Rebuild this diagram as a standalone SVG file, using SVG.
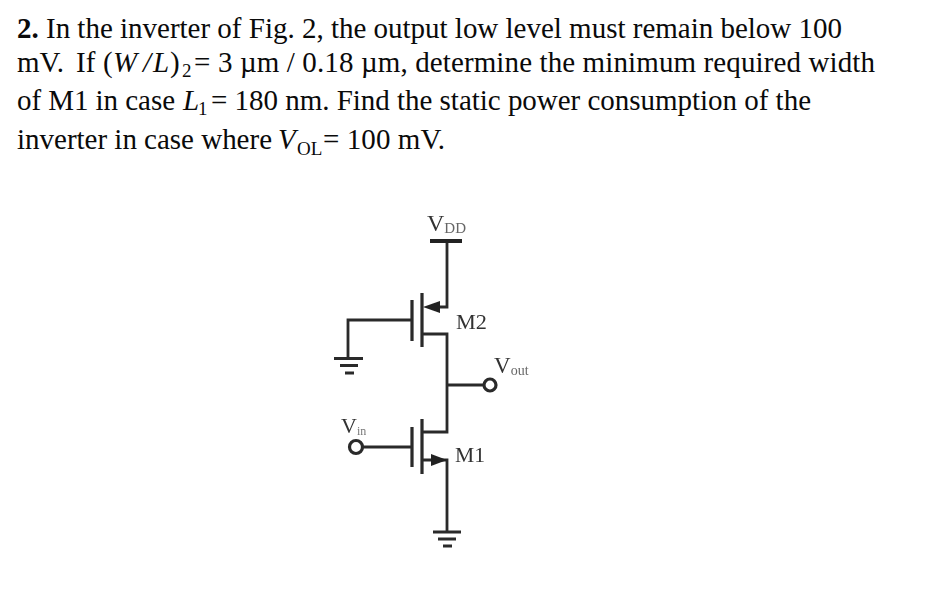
<svg xmlns="http://www.w3.org/2000/svg" width="934" height="599" viewBox="0 0 934 599">
<style>
.q{font-family:"Liberation Serif","Times New Roman",serif;font-size:29px;fill:#0a0a0a}
.i{font-style:italic}
.s{font-size:19px}
.l{font-family:"Liberation Serif","Times New Roman",serif;fill:#333}
.w{fill:none;stroke:#2a2a2a;stroke-width:2.8}
.t{fill:none;stroke:#2a2a2a;stroke-width:3.2}
.h{fill:#222}
</style>
<defs><filter id="b" x="-5%" y="-5%" width="110%" height="110%"><feGaussianBlur stdDeviation="0.6"/></filter></defs>
<rect width="934" height="599" fill="#fff"/>
<g id="question">
<text class="q" x="17" y="38" textLength="825"><tspan font-weight="bold">2.</tspan> In the inverter of Fig. 2, the output low level must remain below 100</text>
<text class="q" x="17" y="72">mV.</text><text class="q" x="76" y="72">If</text><text class="q" x="103" y="72">(</text><text class="q i" x="113" y="72">W</text><text class="q i" x="143" y="72">/</text><text class="q i" x="153" y="72">L</text><text class="q" x="170" y="72">)</text><text class="q s" x="182" y="77">2</text><text class="q" x="194" y="72">=</text>
<text class="q" x="218" y="72" textLength="657">3 µm / 0.18 µm, determine the minimum required width</text>
<text class="q" x="17" y="110" textLength="158">of M1 in case</text><text class="q i" x="183" y="110">L</text><text class="q s" x="198" y="115">1</text>
<text class="q" x="211" y="110" textLength="600">= 180 nm. Find the static power consumption of the</text>
<text class="q" x="17" y="149" textLength="255">inverter in case where</text><text class="q i" x="278" y="149">V</text><text class="q s" x="297" y="155">OL</text>
<text class="q" x="323" y="149" textLength="122">= 100 mV.</text>
</g>
<g filter="url(#b)">
<g id="connectors">
<path class="w" d="M447 241V307H431"/>
<path class="w" d="M412 320H348V358"/>
<path class="w" d="M422 334H447V432H422"/>
<path class="w" d="M447 385H484"/>
<path class="w" d="M363 447H412"/>
<path class="w" d="M422 460H447V532"/>
</g>
<g id="vdd"><rect class="h" x="430" y="239" width="32" height="4"/><text class="l" x="427" y="231" font-size="24">V<tspan font-size="15" dy="2" fill="#666">DD</tspan></text></g>
<g id="m2">
<path class="t" d="M412 300V341M422 293V347"/>
<polygon class="h" points="423,307 440,301 440,313"/>
<text class="l" x="456" y="329" font-size="22" textLength="31" lengthAdjust="spacingAndGlyphs">M2</text>
</g>
<g id="m1">
<path class="t" d="M412 427V467M422 419V474"/>
<polygon class="h" points="447,460 431,454 431,466"/>
<text class="l" x="455" y="462" font-size="22" textLength="30" lengthAdjust="spacingAndGlyphs">M1</text>
</g>
<g id="gnd-top"><path class="t" d="M334 358.500H363M340 365.500H358M345 373H354"/></g>
<g id="gnd-bottom"><path class="t" d="M433 532H461M438 539H456M443 546H452"/></g>
<g id="vout"><circle class="t" cx="490" cy="385" r="6"/><text class="l" x="494" y="373" font-size="23">V<tspan font-size="14" dy="2" fill="#666">out</tspan></text></g>
<g id="vin"><circle class="t" cx="356" cy="447" r="6.500"/><text class="l" x="341" y="433" font-size="22" fill="#666">V<tspan font-size="12" dy="2" fill="#777">in</tspan></text></g>
</g>
</svg>
